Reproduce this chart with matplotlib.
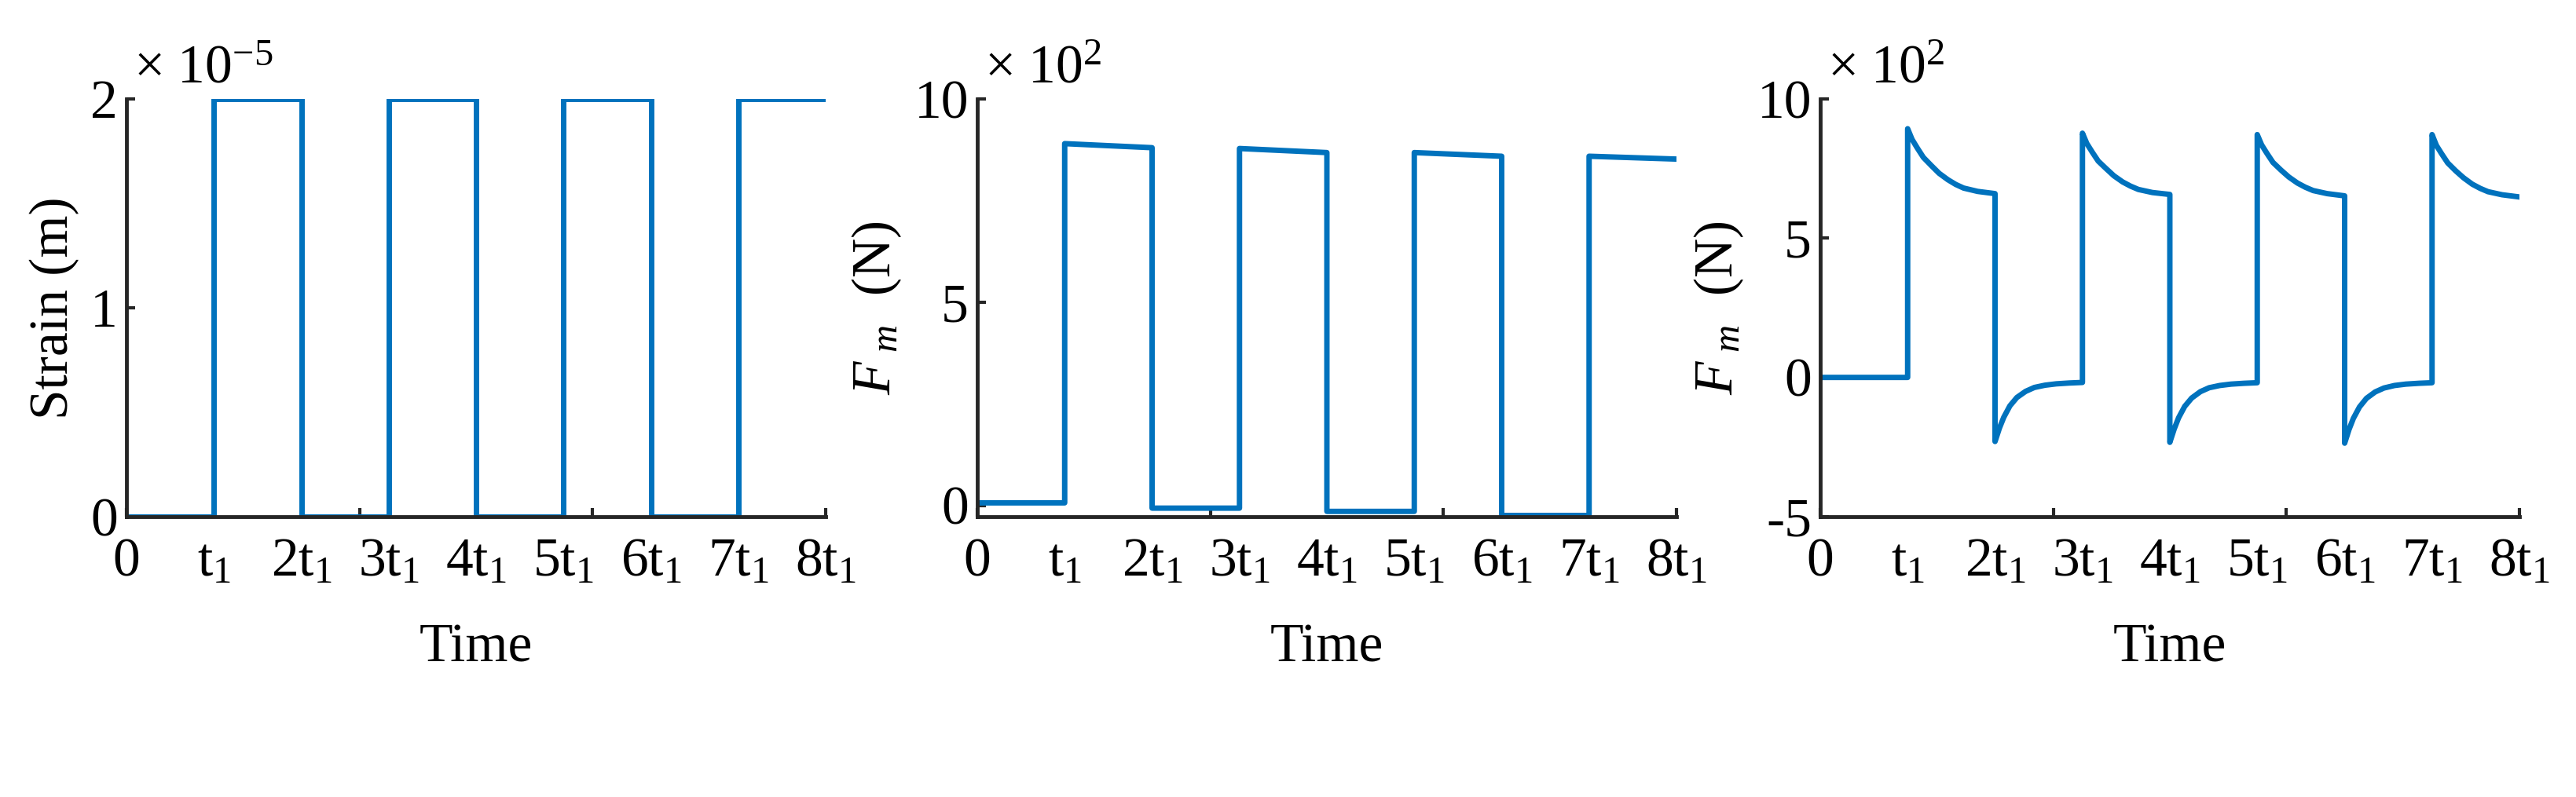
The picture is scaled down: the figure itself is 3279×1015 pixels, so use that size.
import matplotlib
matplotlib.use("Agg")
import matplotlib.pyplot as plt

plt.rcParams['font.family'] = ['Liberation Serif', 'DejaVu Serif']
plt.rcParams['mathtext.fontset'] = 'custom'
plt.rcParams['mathtext.rm'] = 'Liberation Serif'
plt.rcParams['mathtext.it'] = 'Liberation Serif:italic'
plt.rcParams['mathtext.bf'] = 'Liberation Serif:bold'

BLUE = "#0072BD"
DARK = "#262626"

# (a) strain, units of 1e-5 m
strain_t = [0, 1, 1, 2, 2, 3, 3, 4, 4, 5, 5, 6, 6, 7, 7, 8]
strain_v = [0, 0, 2, 2, 0, 0, 2, 2, 0, 0, 2, 2, 0, 0, 2, 2]

# (b) Fm, units of 1e2 N
fb_t = [0, 1, 1, 2, 2, 3, 3, 4, 4, 5, 5, 6, 6, 7, 7, 8]
fb_v = [0.06, 0.06, 8.9, 8.8, -0.07, -0.07, 8.78, 8.68, -0.15, -0.15,
        8.68, 8.59, -0.25, -0.25, 8.59, 8.52]

# (c) Fm, units of 1e2 N
fc_t = [0, 1,
        1.0, 1.05, 1.11, 1.18, 1.27, 1.36, 1.46, 1.55, 1.64, 1.8, 2.0,
        2.0, 2.05, 2.1, 2.17, 2.25, 2.35, 2.45, 2.57, 2.7, 2.85, 3.0,
        3.0, 3.05, 3.11, 3.18, 3.27, 3.36, 3.46, 3.55, 3.64, 3.8, 4.0,
        4.0, 4.05, 4.1, 4.17, 4.25, 4.35, 4.45, 4.57, 4.7, 4.85, 5.0,
        5.0, 5.05, 5.11, 5.18, 5.27, 5.36, 5.46, 5.55, 5.64, 5.8, 6.0,
        6.0, 6.05, 6.1, 6.17, 6.25, 6.35, 6.45, 6.57, 6.7, 6.85, 7.0,
        7.0, 7.05, 7.11, 7.18, 7.27, 7.36, 7.46, 7.55, 7.64, 7.8, 8.0]
fc_v = [0, 0,
        8.93, 8.55, 8.24, 7.90, 7.61, 7.33, 7.10, 6.93, 6.80, 6.68, 6.60,
        -2.30, -1.82, -1.43, -1.02, -0.72, -0.50, -0.36, -0.28, -0.23, -0.20, -0.18,
        8.77, 8.40, 8.10, 7.77, 7.50, 7.24, 7.02, 6.87, 6.75, 6.64, 6.57,
        -2.33, -1.85, -1.45, -1.04, -0.74, -0.51, -0.37, -0.29, -0.24, -0.21, -0.19,
        8.72, 8.35, 8.05, 7.72, 7.45, 7.20, 6.98, 6.83, 6.71, 6.60, 6.52,
        -2.36, -1.87, -1.47, -1.06, -0.75, -0.52, -0.38, -0.29, -0.24, -0.21, -0.19,
        8.72, 8.33, 8.03, 7.70, 7.42, 7.17, 6.94, 6.79, 6.67, 6.56, 6.48]

xtick_pos = list(range(9))
xtick_labels = ["0", "$\\mathregular{t_1}$"] + [f"${k}\\mathregular{{t_1}}$" for k in range(2, 9)]

W, H = 3279, 1015
fig = plt.figure(figsize=(W / 100, H / 100), dpi=100)

panels = [
    (161, strain_t, strain_v, (0, 2), [0, 1, 2], "Strain (m)", "$\\times\\ 10^{-5}$", "a"),
    (1244, fb_t, fb_v, (-0.28, 10), [0, 5, 10], "$F_{\\ m}$  (N)", "$\\times\\ 10^{2}$", "b"),
    (2317, fc_t, fc_v, (-5, 10), [-5, 0, 5, 10], "$F_{\\ m}$  (N)", "$\\times\\ 10^{2}$", "c"),
]

fs = 50
for left, t, v, ylim, yticks, ylabel, mult, tag in panels:
    ax = fig.add_axes([left / W, 1 - 658 / H, 890 / W, (658 - 126) / H])
    ax.plot(t, v, color=BLUE, lw=5)
    ax.set_xlim(0, 8)
    ax.set_ylim(*ylim)
    ax.set_yticks(yticks)
    ax.set_yticklabels([str(y) for y in yticks], fontsize=fs)
    # unlabelled axis tick marks
    ax.set_xticks([0, 8 / 3, 16 / 3, 8])
    ax.set_xticklabels([])
    ax.tick_params(axis="both", which="major", direction="in", length=8, width=3, color=DARK, pad=8)
    # time labels placed under each t1 multiple
    for x, lab in zip(xtick_pos, xtick_labels):
        ax.text(x, -0.05, lab, transform=ax.get_xaxis_transform(), fontsize=fs,
                ha="center", va="top")
    for s in ["top", "right"]:
        ax.spines[s].set_visible(False)
    for s in ["left", "bottom"]:
        ax.spines[s].set_linewidth(3.5)
        ax.spines[s].set_color(DARK)
    ax.set_xlabel("Time", fontsize=fs, labelpad=90)
    ax.set_ylabel(ylabel, fontsize=fs, labelpad=10)
    ax.text(0.01, 1.01, mult, transform=ax.transAxes, fontsize=fs, ha="left", va="bottom")
    ax.text(0.5, -0.68, f"($\\mathbf{{{tag}}}$)", transform=ax.transAxes, fontsize=fs + 4,
            ha="center", va="top")

fig.savefig("out.png", dpi=100)
